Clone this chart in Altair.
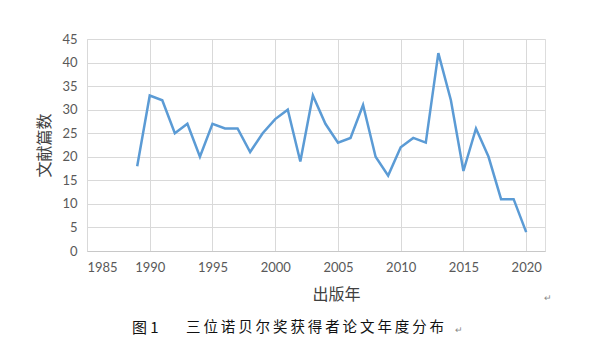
import altair as alt
import pandas as pd

years = list(range(1989, 2021))
counts = [18, 33, 32, 25, 27, 20, 27, 26, 26, 21, 25, 28, 30, 19, 33, 27,
          23, 24, 31, 20, 16, 22, 24, 23, 42, 32, 17, 26, 20, 11, 11, 4]
x_ticks = [1985, 1990, 1995, 2000, 2005, 2010, 2015, 2020]
y_ticks = [0, 5, 10, 15, 20, 25, 30, 35, 40, 45]
x_title = "出版年"
y_title = "文献篇数"
caption_num = "图 1"
caption_text = "三位诺贝尔奖获得者论文年度分布"

df = pd.DataFrame({"year": years, "count": counts})

line = alt.Chart(df).mark_line(color="#5B9BD5", strokeWidth=2.5).encode(
    x=alt.X("year:Q",
            scale=alt.Scale(domain=[1985, 2021.5], nice=False, zero=False),
            axis=alt.Axis(values=x_ticks, format="d", title=x_title,
                          titleX=249, titleY=43, titleBaseline="middle",
                          titleFontSize=16,
                          titleFont="Noto Sans CJK SC", titleFontWeight="normal",
                          titleColor="#404040",
                          labelFont="Lato", labelFontSize=13, labelColor="#595959",
                          labelPadding=10, ticks=False,
                          domainColor="#c8c8c8", gridColor="#d9d9d9")),
    y=alt.Y("count:Q",
            scale=alt.Scale(domain=[0, 45], nice=False),
            axis=alt.Axis(values=y_ticks, title=y_title,
                          titleX=-43, titleY=106, titleAngle=270, titleAlign="center",
                          titleBaseline="middle",
                          titleFontSize=16, titleFont="Noto Sans CJK SC",
                          titleFontWeight="normal", titleColor="#404040",
                          labelFont="Lato", labelFontSize=13, labelColor="#595959",
                          labelPadding=10, ticks=False, domain=False,
                          gridColor="#d9d9d9")),
)

spaced = "\u2009".join(caption_text)
cap_df = pd.DataFrame({"t": [caption_num]})
cap1 = alt.Chart(cap_df).mark_text(
    align="left", baseline="middle", fontSize=15, font="Noto Sans CJK SC",
    color="#111111"
).encode(x=alt.value(45), y=alt.value(289), text="t:N")

cap2 = alt.Chart(pd.DataFrame({"t": [spaced]})).mark_text(
    align="left", baseline="middle", fontSize=14.5, font="Noto Sans CJK SC",
    color="#111111"
).encode(x=alt.value(99), y=alt.value(289), text="t:N")

ret1 = alt.Chart(pd.DataFrame({"t": ["↵"]})).mark_text(
    align="left", baseline="middle", fontSize=9, color="#888888"
).encode(x=alt.value(368), y=alt.value(291), text="t:N")

ret2 = alt.Chart(pd.DataFrame({"t": ["↵"]})).mark_text(
    align="left", baseline="middle", fontSize=9, color="#888888"
).encode(x=alt.value(457), y=alt.value(259), text="t:N")

chart = alt.layer(line, cap1, cap2, ret1, ret2).properties(
    width=458, height=212,
    autosize=alt.AutoSizeParams(type="none"),
    padding={"left": 87, "top": 39, "right": 55, "bottom": 98},
).configure_view(stroke=None).configure(background="white")

chart.save("out.html", embed_options={"renderer": "svg", "actions": False})
